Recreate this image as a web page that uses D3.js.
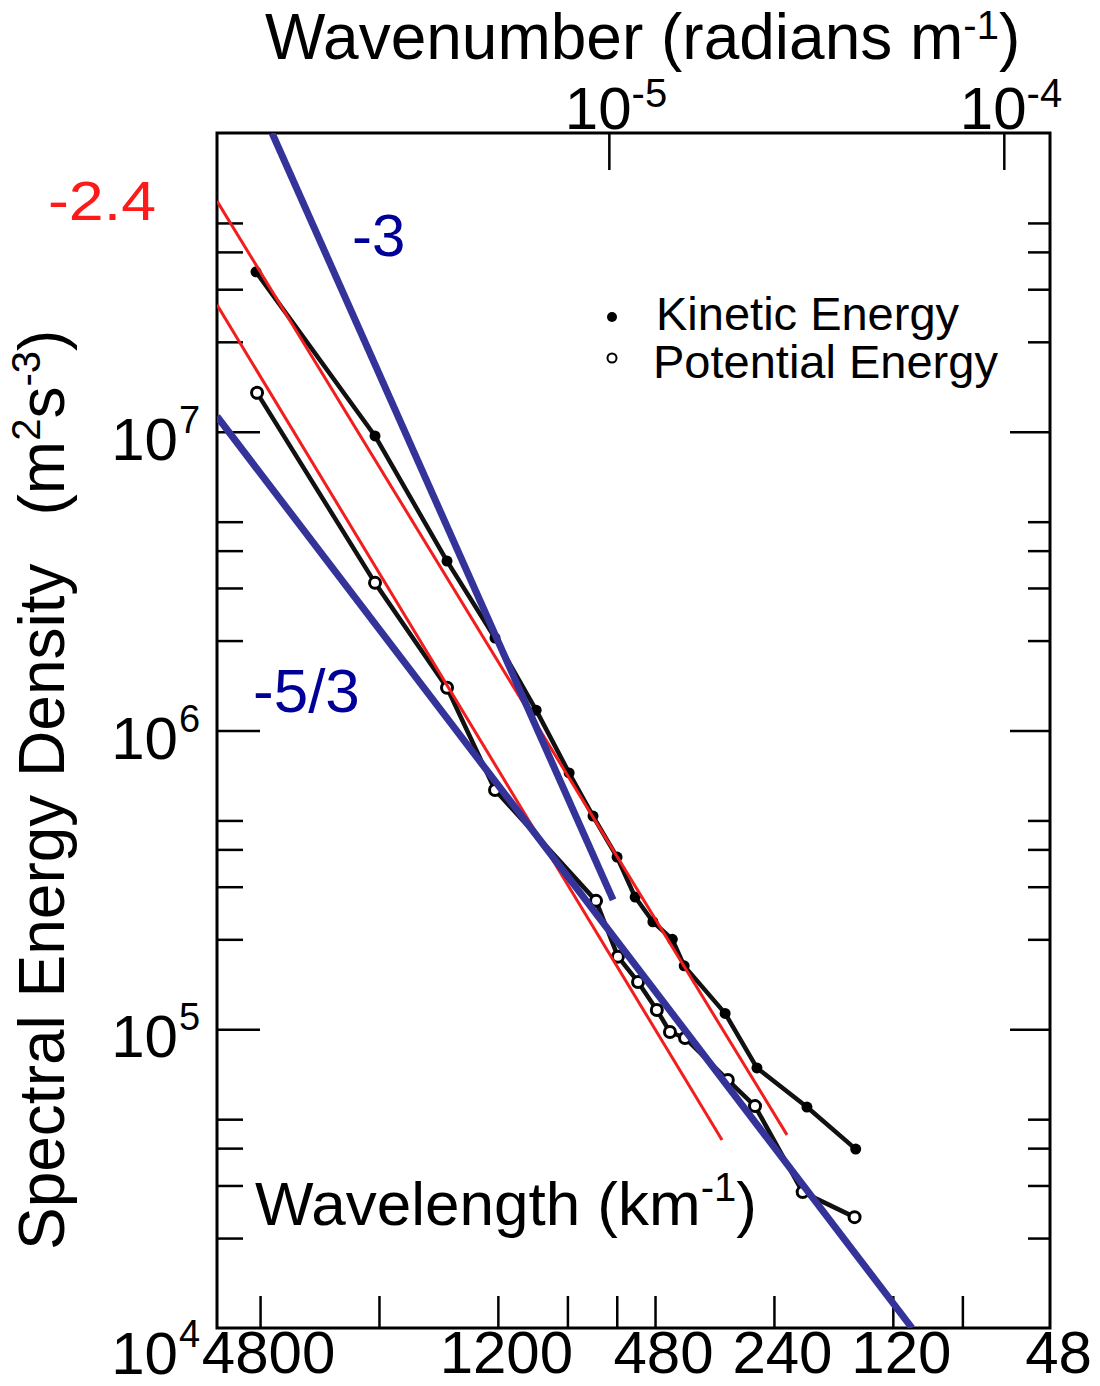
<!DOCTYPE html>
<html>
<head>
<meta charset="utf-8">
<script src="https://cdn.jsdelivr.net/npm/d3@7"></script>
<style>
  body { margin: 0; background: #fff; }
  svg text { font-family: "Liberation Sans", Arial, sans-serif; }
</style>
</head>
<body>
<svg id="chart" width="1100" height="1386"></svg>
<script>
// wavelengths in km, energies in m^2 s^-3
const keWavelength = [4915, 2456, 1614, 1220, 960, 792, 689, 599, 539, 486, 434, 405, 319, 265, 198, 149];
const keEnergy = [3.43e7, 9.68e6, 3.69e6, 2.04e6, 1.17e6, 7.21e5, 5.17e5, 3.77e5, 2.77e5, 2.29e5, 2.0e5, 1.63e5, 1.13e5, 7.42e4, 5.49e4, 3.97e4];
const peWavelength = [4885, 2456, 1614, 1220, 677, 596, 530, 475, 440, 403, 314, 268, 203, 150];
const peEnergy = [1.35e7, 3.12e6, 1.39e6, 6.32e5, 2.69e5, 1.75e5, 1.44e5, 1.16e5, 9.79e4, 9.35e4, 6.76e4, 5.53e4, 2.85e4, 2.35e4];

// hand-drawn slope lines, two end points each
const slope3Wavelength = [4476, 613];
const slope3Energy = [1e8, 2.71e5];
const slope53Wavelength = [6170, 107.3];
const slope53Energy = [1.125e7, 1e4];
const slope24UpperWavelength = [6170, 222.4];
const slope24UpperEnergy = [5.92e7, 4.43e4];
const slope24LowerWavelength = [6170, 324.8];
const slope24LowerEnergy = [2.66e7, 4.26e4];

const wavelengthTicks = [4800, 2400, 1200, 800, 600, 480, 240, 120, 80];
const wavelengthLabels = [4800, 1200, 480, 240, 120, 48];
const wavenumberTicks = [1e-5, 1e-4];
const wavenumberLabels = ['-5', '-4'];
const energyMajor = [1e4, 1e5, 1e6, 1e7];
const energyMajorExp = ['4', '5', '6', '7'];
const energyMinor = [2e4, 3e4, 4e4, 5e4, 2e5, 3e5, 4e5, 5e5, 2e6, 3e6, 4e6, 5e6, 2e7, 3e7, 4e7, 5e7];

const kOf = km => 2 * Math.PI / (km * 1000);   // wavelength (km) -> wavenumber (rad/m)

const svg = d3.select('#chart');
svg.append('rect').attr('width', 1100).attr('height', 1386).attr('fill', '#fff');

const x = d3.scaleLog()
    .domain([kOf(6170), kOf(48)])
    .range([217, 1050]);
const y = d3.scaleLog()
    .domain([1e4, 1e8])
    .range([1328, 133]);

const [x0, x1] = x.range();
const [y0, y1] = y.range();

svg.append('clipPath').attr('id', 'plotClip')
  .append('rect')
    .attr('x', x0).attr('y', y1)
    .attr('width', x1 - x0).attr('height', y0 - y1);

// axes (ticks pointing inward)
const bottomAxis = d3.axisBottom(x)
    .tickValues(wavelengthTicks.map(kOf).concat([kOf(48)]))
    .tickSizeInner(-32).tickSizeOuter(0).tickPadding(2)
    .tickFormat(k => {
        const km = Math.round(2 * Math.PI / k / 1000);
        return wavelengthLabels.includes(km) ? km : '';
    });
const gB = svg.append('g').attr('transform', `translate(0,${y0})`).call(bottomAxis);
gB.selectAll('.tick text').attr('font-size', 60).attr('fill', '#000').attr('dx', 8)
    .attr('font-family', '"Liberation Sans", Arial, sans-serif');
gB.selectAll('.tick line').attr('stroke', '#000').attr('stroke-width', 2.5)
    .filter(k => Math.abs(k - kOf(48)) < 1e-9).remove();

const topAxis = d3.axisTop(x)
    .tickValues(wavenumberTicks)
    .tickSizeInner(-37).tickSizeOuter(0)
    .tickFormat('');
const gT = svg.append('g').attr('transform', `translate(0,${y1})`).call(topAxis);
gT.selectAll('.tick line').attr('stroke', '#000').attr('stroke-width', 2.5);

const leftMajor = d3.axisLeft(y).tickValues(energyMajor.slice(1)).tickSizeInner(-43).tickSizeOuter(0).tickFormat('');
const leftMinor = d3.axisLeft(y).tickValues(energyMinor).tickSizeInner(-26).tickSizeOuter(0).tickFormat('');
const rightMajor = d3.axisRight(y).tickValues(energyMajor.slice(1)).tickSizeInner(-40).tickSizeOuter(0).tickFormat('');
const rightMinor = d3.axisRight(y).tickValues(energyMinor).tickSizeInner(-22).tickSizeOuter(0).tickFormat('');
[[leftMajor, x0], [leftMinor, x0], [rightMajor, x1], [rightMinor, x1]].forEach(([ax, pos]) => {
    const g = svg.append('g').attr('transform', `translate(${pos},0)`).call(ax);
    g.selectAll('.tick line').attr('stroke', '#000').attr('stroke-width', 2.5);
});
svg.selectAll('.domain').remove();

// frame
svg.append('rect')
    .attr('x', x0).attr('y', y1)
    .attr('width', x1 - x0).attr('height', y0 - y1)
    .attr('fill', 'none').attr('stroke', '#000').attr('stroke-width', 3);

// y tick labels 10^n
const yLab = svg.append('g');
energyMajor.forEach((v, i) => {
    const base = y(v) + (v === 1e4 ? 46 : 28);
    yLab.append('text')
        .attr('x', 178).attr('y', base)
        .attr('text-anchor', 'end').attr('font-size', 60).attr('fill', '#000')
        .text('10');
    yLab.append('text')
        .attr('x', 179).attr('y', base - 27)
        .attr('font-size', 38).attr('fill', '#000')
        .text(energyMajorExp[i]);
});

// top tick labels 10^-n
wavenumberTicks.forEach((k, i) => {
    svg.append('text')
        .attr('x', x(k) - 44).attr('y', 129)
        .attr('font-size', 60).attr('fill', '#000')
        .text('10')
      .append('tspan')
        .attr('dy', -22).attr('font-size', 40)
        .text(wavenumberLabels[i]);
});

// titles
const topTitle = svg.append('text')
    .attr('x', 265).attr('y', 59)
    .attr('font-size', 64).attr('fill', '#000');
topTitle.append('tspan').text('Wavenumber (radians m');
topTitle.append('tspan').attr('dy', -20).attr('font-size', 40).text('-1');
topTitle.append('tspan').attr('dy', 20).text(')');

const yTitle = svg.append('text')
    .attr('transform', 'translate(64,1250) rotate(-90)')
    .attr('font-size', 64).attr('fill', '#000');
yTitle.append('tspan').text('Spectral Energy Density');
yTitle.append('tspan').attr('dx', 48).text('(m');
yTitle.append('tspan').attr('dy', -24).attr('font-size', 40).text('2');
yTitle.append('tspan').attr('dy', 24).text('s');
yTitle.append('tspan').attr('dy', -24).attr('font-size', 40).text('-3');
yTitle.append('tspan').attr('dy', 24).text(')');

const xTitle = svg.append('text')
    .attr('x', 255).attr('y', 1225)
    .attr('font-size', 62).attr('fill', '#000');
xTitle.append('tspan').text('Wavelength (km');
xTitle.append('tspan').attr('dy', -24).attr('font-size', 40).text('-1');
xTitle.append('tspan').attr('dy', 24).text(')');

// data
const plot = svg.append('g').attr('clip-path', 'url(#plotClip)');
const line = d3.line()
    .x(d => x(kOf(d[0])))
    .y(d => y(d[1]));

const ke = d3.zip(keWavelength, keEnergy);
const pe = d3.zip(peWavelength, peEnergy);

[ke, pe].forEach(series => {
    plot.append('path')
        .datum(series)
        .attr('d', line)
        .attr('fill', 'none').attr('stroke', '#111')
        .attr('stroke-width', 4.5).attr('stroke-linejoin', 'round');
});

plot.selectAll('circle.ke').data(ke).enter().append('circle')
    .attr('class', 'ke')
    .attr('cx', d => x(kOf(d[0]))).attr('cy', d => y(d[1]))
    .attr('r', 5.5).attr('fill', '#000');
plot.selectAll('circle.pe').data(pe).enter().append('circle')
    .attr('class', 'pe')
    .attr('cx', d => x(kOf(d[0]))).attr('cy', d => y(d[1]))
    .attr('r', 5.5).attr('fill', '#fff').attr('stroke', '#000').attr('stroke-width', 3);

// slope lines
const slopeLines = [
    [slope24UpperWavelength, slope24UpperEnergy, '#f21d1d', 3],
    [slope24LowerWavelength, slope24LowerEnergy, '#f21d1d', 3],
    [slope3Wavelength, slope3Energy, '#333399', 7],
    [slope53Wavelength, slope53Energy, '#333399', 7]
];
slopeLines.forEach(([km, e, color, w]) => {
    plot.append('path')
        .datum(d3.zip(km, e))
        .attr('d', line)
        .attr('fill', 'none').attr('stroke', color).attr('stroke-width', w);
});

// slope annotations
svg.append('text').attr('x', 48).attr('y', 220)
    .attr('font-size', 56).attr('fill', '#ff1a1a')
    .attr('textLength', 108).attr('lengthAdjust', 'spacingAndGlyphs')
    .text('-2.4');
svg.append('text').attr('x', 352).attr('y', 256)
    .attr('font-size', 60).attr('fill', '#000099')
    .text('-3');
svg.append('text').attr('x', 253).attr('y', 712)
    .attr('font-size', 62).attr('fill', '#000099')
    .text('-5/3');

// legend
const legend = svg.append('g');
legend.append('circle').attr('cx', 612).attr('cy', 317).attr('r', 5).attr('fill', '#000');
legend.append('circle').attr('cx', 612).attr('cy', 358).attr('r', 4.5)
    .attr('fill', '#fff').attr('stroke', '#000').attr('stroke-width', 2);
legend.append('text').attr('x', 656).attr('y', 330)
    .attr('font-size', 47).attr('fill', '#000').text('Kinetic Energy');
legend.append('text').attr('x', 653).attr('y', 378)
    .attr('font-size', 47).attr('fill', '#000').text('Potential Energy');
</script>
</body>
</html>
